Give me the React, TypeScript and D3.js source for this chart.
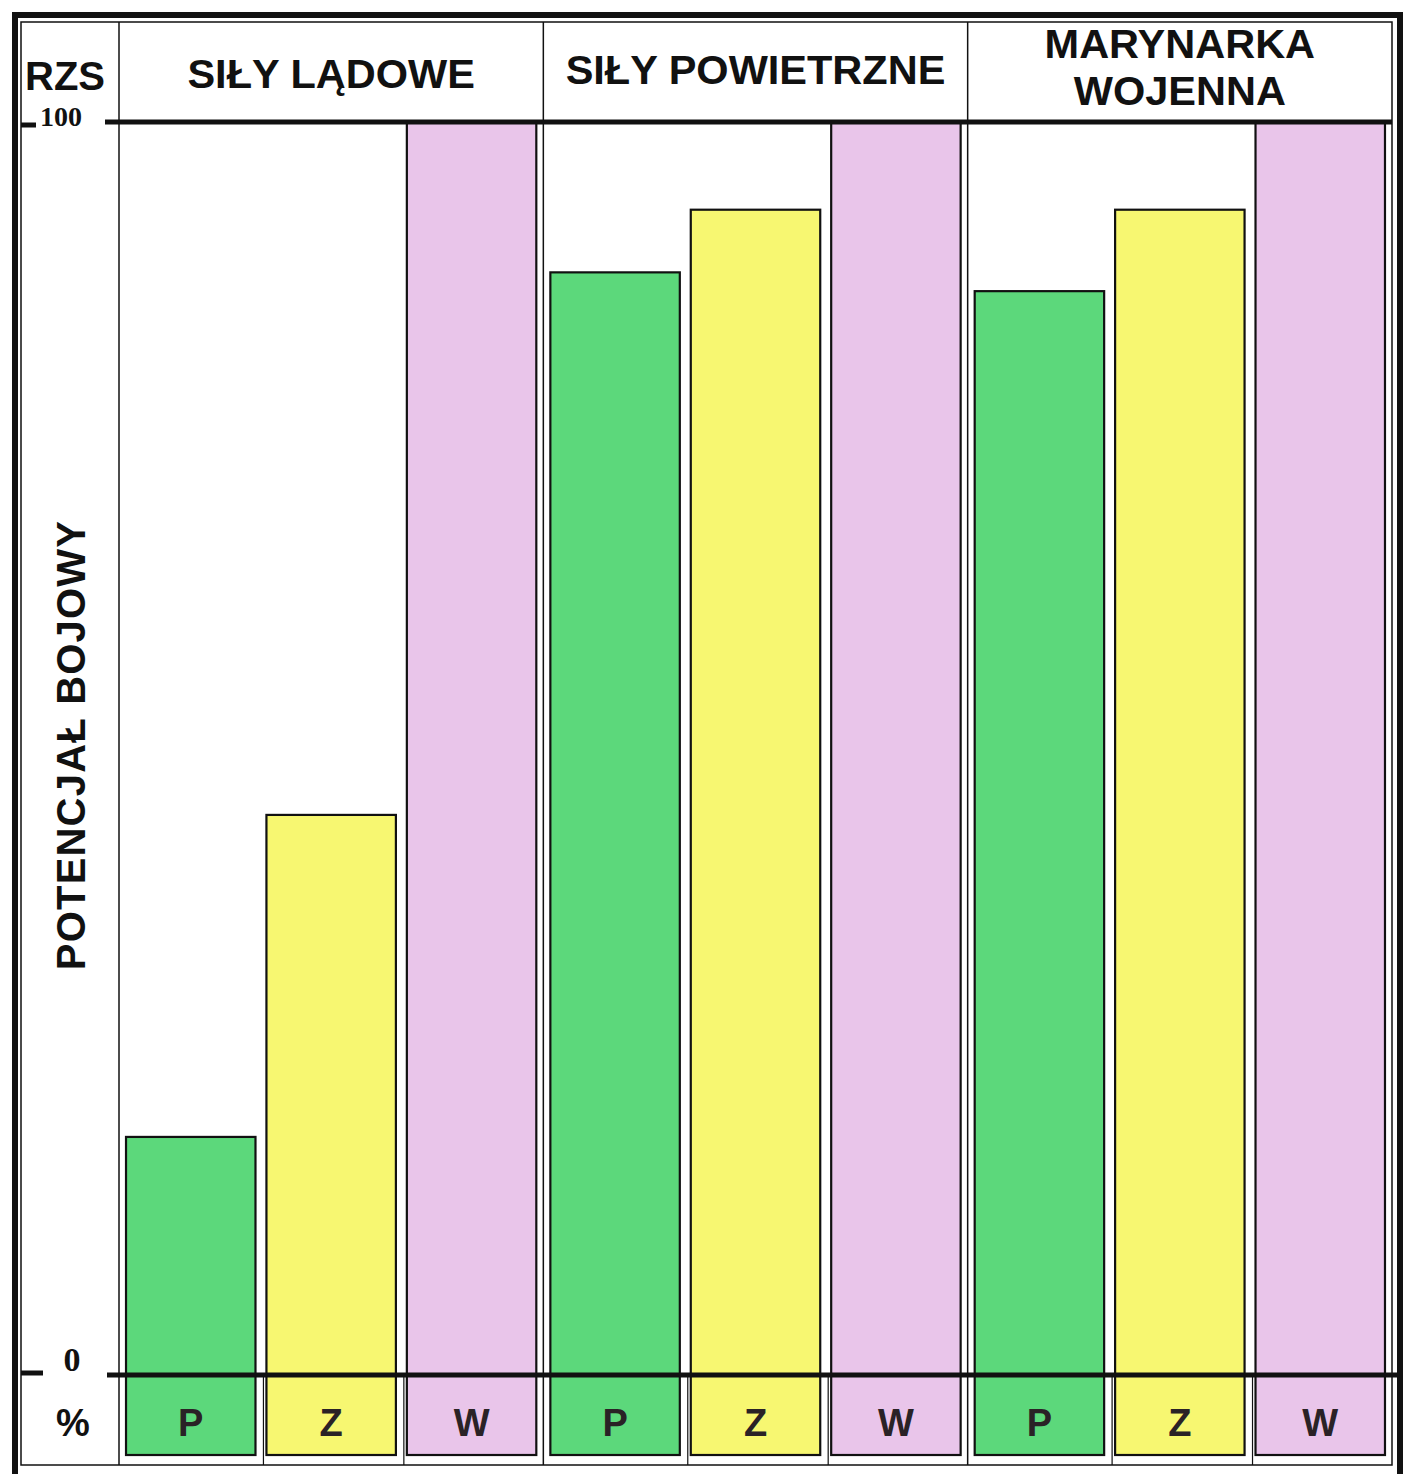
import React, { useEffect, useRef } from 'react';
import * as d3 from 'd3';

// dane (RZS, %)
const groups = ['ladowe', 'powietrzne', 'marynarka'];
const groupTitles: string[][] = [['SIŁY LĄDOWE'], ['SIŁY POWIETRZNE'], ['MARYNARKA', 'WOJENNA']];
const kinds = ['P', 'Z', 'W'];
const valuesP = [19, 88, 86.5];
const valuesZ = [44.7, 93, 93];
const valuesW = [100, 100, 100];
const yTicks = [0, 100];
const axisTitle = 'POTENCJAŁ BOJOWY';
const cornerLabel = 'RZS';
const unitLabel = '%';

const kindColors: Record<string, string> = { P: '#5cd87b', Z: '#f7f771', W: '#e9c5ea' };

interface Bar {
    group: string;
    kind: string;
    value: number;
}

const bars: Bar[] = [];
groups.forEach((g, i) => {
    bars.push({ group: g, kind: 'P', value: valuesP[i] });
    bars.push({ group: g, kind: 'Z', value: valuesZ[i] });
    bars.push({ group: g, kind: 'W', value: valuesW[i] });
});

const WIDTH = 1405;
const HEIGHT = 1474;

const Chart: React.FC = () => {
    const ref = useRef<SVGSVGElement>(null);

    useEffect(() => {
        draw();
        //eslint-disable-next-line
    }, []);

    const draw = () => {
        const frame = { left: 21, top: 22, right: 1392, bottom: 1465 };
        const plotLeft = 119;
        const barBottom = 1455;

        const y = d3.scaleLinear().domain([0, 100]).range([1375, 122]);
        const x0 = d3.scaleBand<string>().domain(groups).range([plotLeft, frame.right]);
        const x1 = d3.scaleBand<string>().domain(kinds).range([0, x0.bandwidth()])
            .paddingInner(0.078).paddingOuter(0.05);

        const svg = d3.select(ref.current);
        svg.selectAll('*').remove();

        svg.append('rect').attr('width', WIDTH).attr('height', HEIGHT).attr('fill', '#ffffff');

        // słupki
        svg.append('g')
            .selectAll('rect')
            .data(bars)
            .join('rect')
            .attr('x', d => (x0(d.group) as number) + (x1(d.kind) as number))
            .attr('y', d => y(d.value))
            .attr('width', x1.bandwidth())
            .attr('height', d => barBottom - y(d.value))
            .attr('fill', d => kindColors[d.kind])
            .attr('stroke', '#111')
            .attr('stroke-width', 2.2);

        const sans = '"Liberation Sans", Arial, sans-serif';

        // litery P Z W
        svg.append('g')
            .selectAll('text')
            .data(bars)
            .join('text')
            .attr('x', d => (x0(d.group) as number) + (x1(d.kind) as number) + x1.bandwidth() / 2)
            .attr('y', 1436)
            .attr('text-anchor', 'middle')
            .attr('font-family', sans)
            .attr('font-weight', 'bold')
            .attr('font-size', 38)
            .attr('fill', '#2a2226')
            .text(d => d.kind);

        const lines = svg.append('g').attr('stroke', '#111').attr('fill', 'none');

        // ramka wewnętrzna
        lines.append('rect')
            .attr('x', frame.left).attr('y', frame.top)
            .attr('width', frame.right - frame.left).attr('height', frame.bottom - frame.top)
            .attr('stroke-width', 1.5);

        // ramka zewnętrzna (gruba)
        lines.append('path')
            .attr('d', `M15,${HEIGHT} L15,15 L1400,15 L1400,${HEIGHT}`)
            .attr('stroke-width', 6);

        // pionowe linie grup
        const seps = [plotLeft, ...groups.slice(1).map(g => x0(g) as number)];
        lines.selectAll('line.sep')
            .data(seps)
            .join('line')
            .attr('x1', d => d).attr('x2', d => d)
            .attr('y1', frame.top).attr('y2', frame.bottom)
            .attr('stroke-width', 1.5);

        // podziały w pasie etykiet
        const divs: number[] = [];
        groups.forEach(g => {
            ['Z', 'W'].forEach(k => divs.push((x0(g) as number) + (x1(k) as number) - 3));
        });
        lines.selectAll('line.div')
            .data(divs)
            .join('line')
            .attr('x1', d => d).attr('x2', d => d)
            .attr('y1', y(0)).attr('y2', frame.bottom)
            .attr('stroke-width', 1.2);

        // linie 0 i 100
        yTicks.forEach(t => {
            lines.append('line')
                .attr('x1', t === 0 ? 107 : 105).attr('x2', t === 0 ? 1398 : frame.right)
                .attr('y1', y(t)).attr('y2', y(t))
                .attr('stroke-width', 5);
            lines.append('line')
                .attr('x1', frame.left).attr('x2', t === 0 ? 43 : 36)
                .attr('y1', y(t) + (t === 0 ? -2 : 3)).attr('y2', y(t) + (t === 0 ? -2 : 3))
                .attr('stroke-width', 5);
        });

        // etykiety osi
        svg.append('g')
            .selectAll('text')
            .data(yTicks)
            .join('text')
            .attr('x', d => (d === 0 ? 72 : 61))
            .attr('y', d => (d === 0 ? 1371 : 126))
            .attr('text-anchor', 'middle')
            .attr('font-family', '"Liberation Serif", "Times New Roman", serif')
            .attr('font-weight', 'bold')
            .attr('font-size', d => (d === 0 ? 34 : 28))
            .attr('fill', '#111')
            .text(d => d);

        svg.append('text')
            .attr('x', 65).attr('y', 90)
            .attr('text-anchor', 'middle')
            .attr('font-family', sans).attr('font-weight', 'bold').attr('font-size', 40)
            .attr('fill', '#111')
            .text(cornerLabel);

        svg.append('text')
            .attr('x', 73).attr('y', 1436)
            .attr('text-anchor', 'middle')
            .attr('font-family', sans).attr('font-weight', 'bold').attr('font-size', 38)
            .attr('fill', '#111')
            .text(unitLabel);

        svg.append('text')
            .attr('transform', 'translate(85,745) rotate(-90)')
            .attr('text-anchor', 'middle')
            .attr('font-family', sans).attr('font-weight', 'bold').attr('font-size', 40)
            .attr('letter-spacing', 1.2)
            .attr('fill', '#111')
            .text(axisTitle);

        // nagłówki grup
        groups.forEach((g, i) => {
            const cx = (x0(g) as number) + x0.bandwidth() / 2;
            const title = groupTitles[i];
            const baseY = title.length === 1 ? (i === 0 ? 88 : 84) : 58;
            title.forEach((t, j) => {
                svg.append('text')
                    .attr('x', cx).attr('y', baseY + j * 47)
                    .attr('text-anchor', 'middle')
                    .attr('font-family', sans).attr('font-weight', 'bold').attr('font-size', 41.5)
                    .attr('fill', '#111')
                    .text(t);
            });
        });
    };

    return <svg ref={ref} width={WIDTH} height={HEIGHT} style={{ position: 'absolute', left: 0, top: 0 }}></svg>;
};

export default function App() {
    return <Chart />;
}
